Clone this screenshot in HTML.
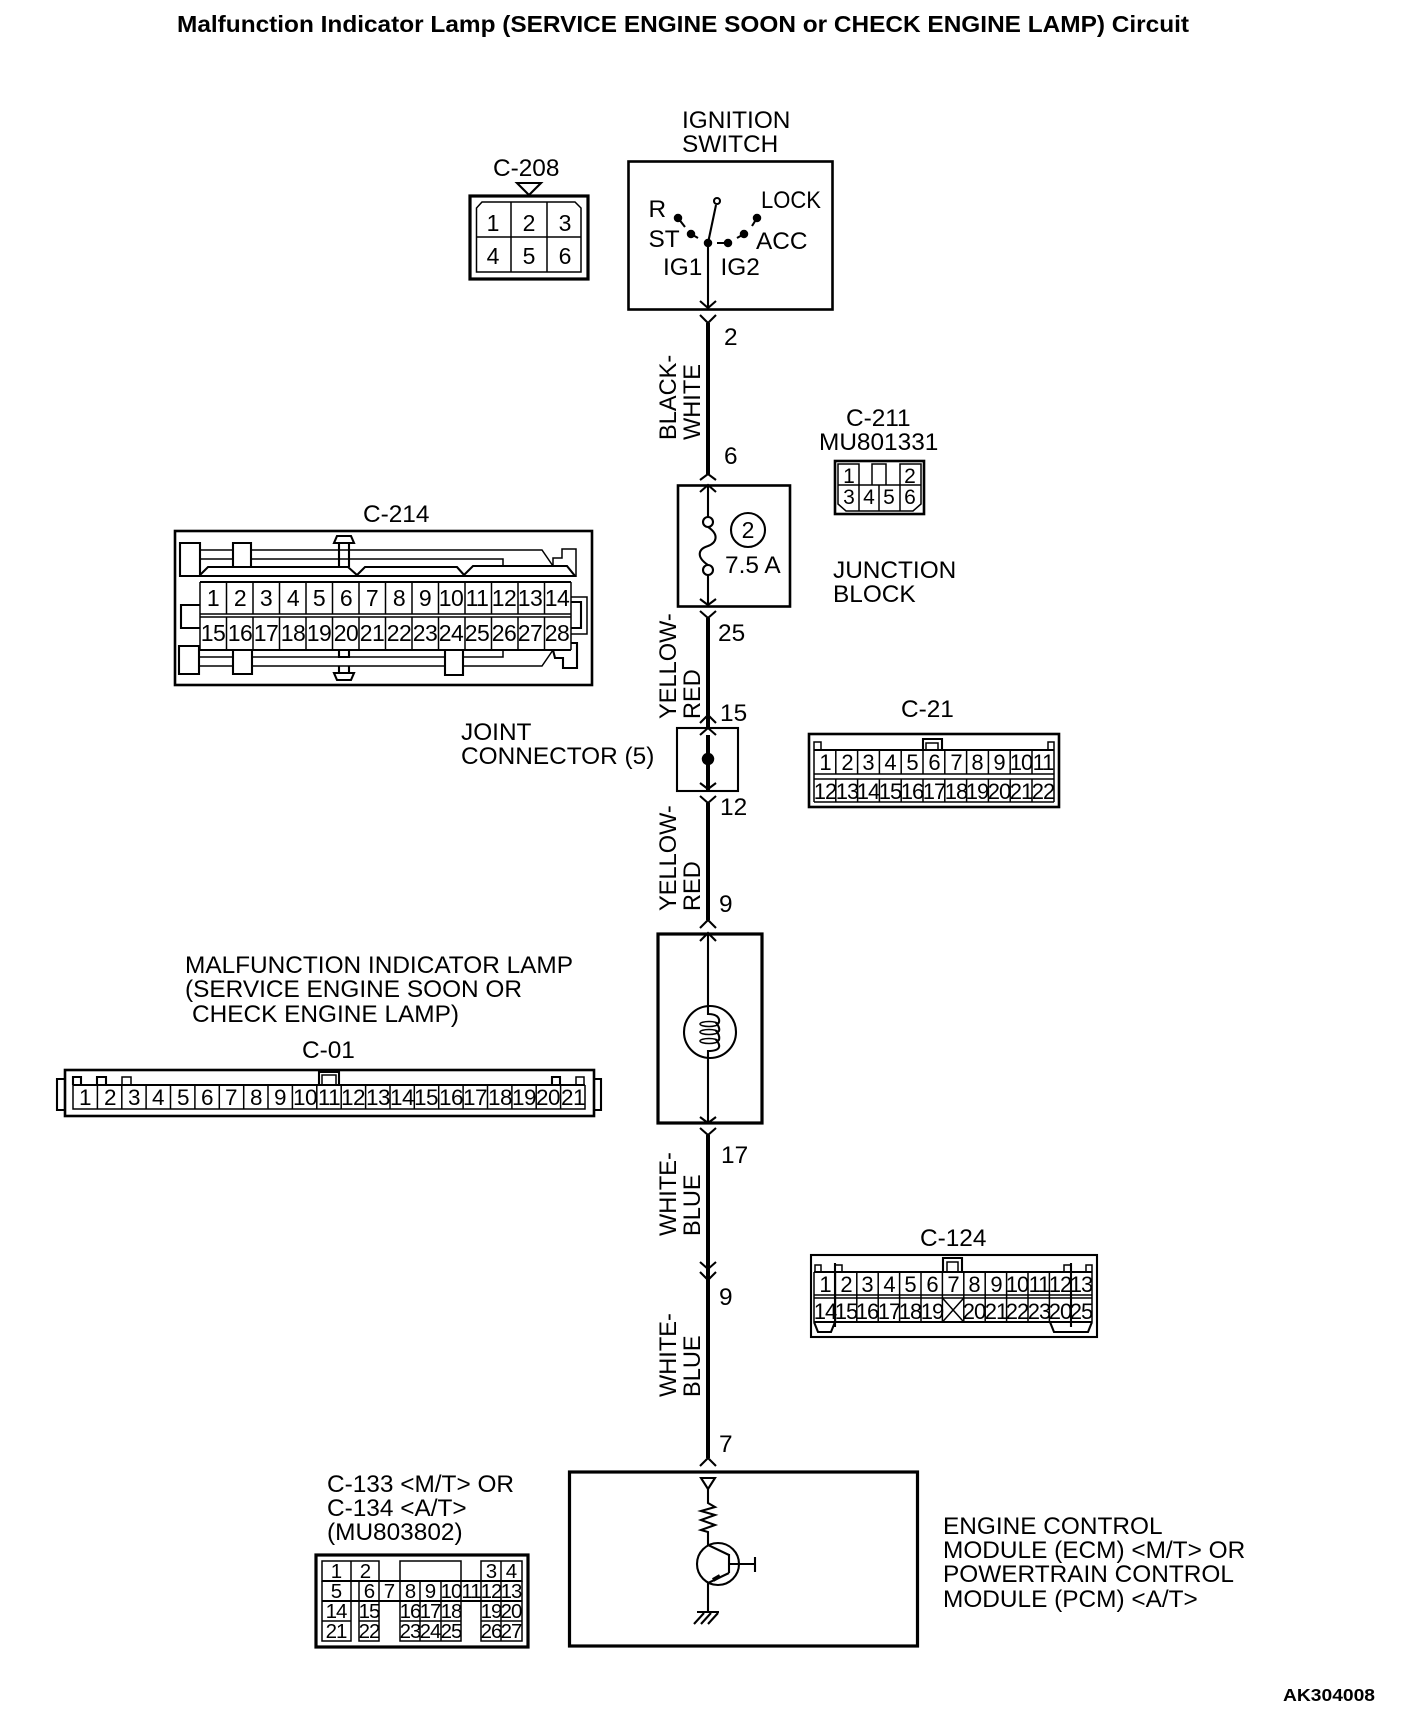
<!DOCTYPE html>
<html><head><meta charset="utf-8"><title>Malfunction Indicator Lamp Circuit</title>
<style>
html,body{margin:0;padding:0;background:#fff;width:1408px;height:1722px;overflow:hidden}
svg{display:block}
text{font-family:"Liberation Sans",sans-serif;fill:#000;stroke:none}
.l{font-size:24.4px}
.r{font-size:23.6px}
.n{font-size:23px;text-anchor:middle}
.s{font-size:22px;text-anchor:middle;letter-spacing:-1px}
.a{font-size:22.500px;text-anchor:middle;letter-spacing:-.5px}
.t{font-size:20.500px;text-anchor:middle;letter-spacing:-1px}
path,rect,circle,ellipse,line,polygon{fill:none;stroke:#000;stroke-width:1.5}
.b2{stroke-width:2.6}
.b3{stroke-width:3.2}
.w{stroke-width:4}
.c{stroke-width:2.1}
</style></head><body>
<svg width="1408" height="1722" viewBox="0 0 1408 1722" xmlns="http://www.w3.org/2000/svg">
<text x="177" y="32" font-size="23" font-weight="bold" textLength="1012" lengthAdjust="spacingAndGlyphs">Malfunction Indicator Lamp (SERVICE ENGINE SOON or CHECK ENGINE LAMP) Circuit</text>
<text x="1283" y="1701" font-size="17.500" font-weight="bold" textLength="92" lengthAdjust="spacingAndGlyphs">AK304008</text>

<!-- Wires -->
<path class="w" d="M708 323V474M708 618V728M708 735V790M708 803V920M708 1135V1458"/>
<path class="c" d="M708 243V309M708 485V517M708 575V606M708 934V1006M708 1058V1123"/>
<path class="c" d="M700 301L708 308L716 301M700 315L708 323L716 315"/>
<path class="c" d="M700 480L708 474L716 480M700 492L708 485L716 492"/>
<path class="c" d="M700 599L708 605L716 599M700 611L708 618L716 611"/>
<path class="c" d="M700 723L708 715L716 723M700 735L708 728L716 735"/>
<path class="c" d="M700 783L708 789L716 783M700 796L708 803L716 796"/>
<path class="c" d="M700 928L708 920L716 928M700 941L708 933L716 941"/>
<path class="c" d="M700 1117L708 1123L716 1117M700 1128L708 1135L716 1128"/>
<path class="c" d="M700 1262L708 1269L716 1262M700 1272L708 1280L716 1272"/>
<path class="c" d="M700 1466L708 1458L716 1466"/>

<!-- Ignition switch -->
<text class="l" x="682" y="128">IGNITION</text>
<text class="l" x="682" y="152">SWITCH</text>
<rect class="b2" x="628.500" y="161.500" width="204" height="148"/>
<circle class="c" cx="717" cy="201" r="3"/>
<path class="c" d="M716 205L708 243"/>
<circle cx="708" cy="243" r="3.500" style="fill:#000"/>
<circle cx="728" cy="243" r="3.500" style="fill:#000"/>
<circle cx="678" cy="218" r="3.500" style="fill:#000"/>
<circle cx="691" cy="234" r="3.500" style="fill:#000"/>
<circle cx="744" cy="234" r="3.500" style="fill:#000"/>
<circle cx="757" cy="218" r="3.500" style="fill:#000"/>
<path class="c" d="M678 218L685 227M691 234L698 238M728 243H717M744 234L737 238M757 218L752 226"/>
<text class="l" x="648.500" y="217">R</text>
<text class="l" x="648.500" y="247">ST</text>
<text class="l" x="663" y="275">IG1</text>
<text class="l" x="720.500" y="275">IG2</text>
<text class="r" x="761" y="208" textLength="60" lengthAdjust="spacingAndGlyphs">LOCK</text>
<text class="l" x="756" y="249">ACC</text>

<!-- Pin labels -->
<text class="l" x="724" y="345">2</text>
<text class="l" x="724" y="464">6</text>
<text class="l" x="718" y="641">25</text>
<text class="l" x="720" y="721">15</text>
<text class="l" x="720" y="815">12</text>
<text class="l" x="719" y="912">9</text>
<text class="l" x="721" y="1163">17</text>
<text class="l" x="719" y="1305">9</text>
<text class="l" x="719" y="1452">7</text>

<!-- Wire colours -->
<g class="r">
<text transform="translate(676 440) rotate(-90)">BLACK-</text>
<text transform="translate(700 440) rotate(-90)">WHITE</text>
<text transform="translate(676 719) rotate(-90)">YELLOW-</text>
<text transform="translate(700 719) rotate(-90)">RED</text>
<text transform="translate(676 911) rotate(-90)">YELLOW-</text>
<text transform="translate(700 911) rotate(-90)">RED</text>
<text transform="translate(676 1236) rotate(-90)">WHITE-</text>
<text transform="translate(700 1236) rotate(-90)">BLUE</text>
<text transform="translate(676 1397) rotate(-90)">WHITE-</text>
<text transform="translate(700 1397) rotate(-90)">BLUE</text>
</g>

<!-- C-208 -->
<text class="l" x="493" y="176">C-208</text>
<polygon class="c" points="517,183 541,183 529,195"/>
<rect class="b3" x="470" y="196" width="118" height="83"/>
<path d="M476.500 272V208L482 202H575L581 208V272ZM511 202V272M547 202V272M476.500 237H581"/>
<text class="n" x="493" y="231">1</text><text class="n" x="529" y="231">2</text><text class="n" x="565" y="231">3</text>
<text class="n" x="493" y="264">4</text><text class="n" x="529" y="264">5</text><text class="n" x="565" y="264">6</text>

<!-- Junction block -->
<rect class="b2" x="678" y="485.500" width="112" height="121"/>
<circle class="c" cx="708" cy="522" r="5"/>
<circle class="c" cx="708" cy="570" r="5"/>
<path class="c" d="M708 527C720 535 716 543 708 546C698 549 696 557 708 565"/>
<circle class="c" cx="748" cy="530" r="17"/>
<text class="n" x="748" y="538">2</text>
<text class="l" x="725" y="573">7.5 A</text>
<text class="l" x="833" y="578">JUNCTION</text>
<text class="l" x="833" y="602">BLOCK</text>

<!-- C-211 -->
<text class="l" x="846" y="426">C-211</text>
<text class="l" x="819" y="450">MU801331</text>
<rect class="b2" x="835" y="461" width="89" height="53"/>
<path d="M838 464H859V485H838ZM900 464H921V485H900ZM872 464H886V485H872ZM838 485H921V504L913 511H846L838 504ZM859 485V511M879 485V511M900 485V511"/>
<g class="n" style="font-size:21px"><text x="849" y="483">1</text><text x="910" y="483">2</text><text x="849" y="504">3</text><text x="869" y="504">4</text><text x="889" y="504">5</text><text x="910" y="504">6</text></g>

<!-- C-214 -->
<text class="l" x="363" y="522">C-214</text>
<rect class="b2" x="175" y="531" width="417" height="154"/>
<path class="c" d="M180 543H200V576H180ZM233 543H251V567H233Z"/>
<path d="M200 550H233M251 550H542L553 566M200 559H233M251 559H503V565"/>
<path class="c" d="M200 575L208 567H348L357 575L365 567H457L464 575L473 566H567L575 576H180"/>
<path d="M553 566V558H562V549H576V576"/>
<path class="c" d="M339 543V567M349 543V567"/>
<path class="c" d="M337 536H351L354 543H334Z"/>
<path class="c" d="M200 582H571M200 650H571"/>
<path d="M200 582V650M571 582V650M200 614H571M200 617H571"/>
<path d="M226.500 582V614M253 582V614M279.500 582V614M306 582V614M332.500 582V614M359 582V614M385.500 582V614M412 582V614M438.500 582V614M465 582V614M491.500 582V614M518 582V614M544.500 582V614"/>
<path d="M226.500 617V650M253 617V650M279.500 617V650M306 617V650M332.500 617V650M359 617V650M385.500 617V650M412 617V650M438.500 617V650M465 617V650M491.500 617V650M518 617V650M544.500 617V650"/>
<path class="c" d="M200 605H181V628H200"/>
<path d="M571 597H587V634H571"/>
<path class="c" d="M571 602H581V628H571"/>
<path class="c" d="M199 646H179V674H199ZM233 650V674H252V650M445 650V675H463V650"/>
<path d="M199 657H233M252 657H445M463 657H503V650M199 666H233M252 666H445M463 666H542L553 650"/>
<path class="c" d="M553 650L555 658H563V668H577V643H571"/>
<path class="c" d="M339 650V657H349V650M339 666V673M349 666V673M334 673H354L351 680H337Z"/>
<g class="n" style="letter-spacing:-.6px">
<text x="213" y="606">1</text><text x="240" y="606">2</text><text x="266" y="606">3</text><text x="293" y="606">4</text><text x="319" y="606">5</text><text x="346" y="606">6</text><text x="372" y="606">7</text><text x="399" y="606">8</text><text x="425" y="606">9</text><text x="451" y="606">10</text><text x="477" y="606">11</text><text x="504" y="606">12</text><text x="530" y="606">13</text><text x="557" y="606">14</text>
<text x="213" y="641">15</text><text x="240" y="641">16</text><text x="266" y="641">17</text><text x="293" y="641">18</text><text x="319" y="641">19</text><text x="346" y="641">20</text><text x="372" y="641">21</text><text x="399" y="641">22</text><text x="425" y="641">23</text><text x="451" y="641">24</text><text x="477" y="641">25</text><text x="504" y="641">26</text><text x="530" y="641">27</text><text x="557" y="641">28</text>
</g>

<!-- Joint connector -->
<text class="l" x="461" y="740">JOINT</text>
<text class="l" x="461" y="764">CONNECTOR (5)</text>
<rect class="c" x="677" y="728" width="61" height="63"/>
<circle cx="708" cy="759" r="5.500" style="fill:#000"/>

<!-- C-21 -->
<text class="l" x="901" y="717">C-21</text>
<rect class="b2" x="809" y="734" width="250" height="73"/>
<path class="c" d="M814 750H1054"/>
<path d="M814 774H1054M814 779H1054M814 802H1054"/>
<path d="M814 750V802M1054 750V802M835.800 750V774M857.600 750V774M879.400 750V774M901.200 750V774M923 750V774M944.800 750V774M966.600 750V774M988.400 750V774M1010.200 750V774M1032 750V774M835.800 779V802M857.600 779V802M879.400 779V802M901.200 779V802M923 779V802M944.800 779V802M966.600 779V802M988.400 779V802M1010.200 779V802M1032 779V802"/>
<path d="M814 750V742H821V750M1048 750V742H1054V750"/>
<path class="c" d="M923 750V739H942V750"/>
<path d="M926 750V743H938V750"/>
<g class="s">
<text x="825" y="770">1</text><text x="847" y="770">2</text><text x="868" y="770">3</text><text x="890" y="770">4</text><text x="912" y="770">5</text><text x="934" y="770">6</text><text x="956" y="770">7</text><text x="977" y="770">8</text><text x="999" y="770">9</text><text x="1021" y="770">10</text><text x="1043" y="770">11</text>
<text x="825" y="799">12</text><text x="847" y="799">13</text><text x="868" y="799">14</text><text x="890" y="799">15</text><text x="912" y="799">16</text><text x="934" y="799">17</text><text x="956" y="799">18</text><text x="977" y="799">19</text><text x="999" y="799">20</text><text x="1021" y="799">21</text><text x="1043" y="799">22</text>
</g>

<!-- Lamp -->
<text class="l" x="185" y="973">MALFUNCTION INDICATOR LAMP</text>
<text class="l" x="185" y="997">(SERVICE ENGINE SOON OR</text>
<text class="l" x="192" y="1022">CHECK ENGINE LAMP)</text>
<rect class="b3" x="658" y="934" width="104" height="189"/>
<circle class="c" cx="710" cy="1032" r="26"/>
<path class="c" d="M708 1006V1014C722 1014 720 1024 717 1024C720 1028 720 1032 717 1032C720 1036 720 1041 717 1041C720 1045 722 1051 708 1051V1058"/>
<ellipse cx="709" cy="1024" rx="9" ry="2.500"/>
<ellipse cx="709" cy="1032" rx="9" ry="2.500"/>
<ellipse cx="709" cy="1041" rx="9" ry="2.500"/>

<!-- C-01 -->
<text class="l" x="302" y="1058">C-01</text>
<rect class="b2" x="65" y="1070" width="529" height="46"/>
<path class="c" d="M65 1079H57V1110H65M594 1079H601V1110H594"/>
<path class="c" d="M73 1085H585"/>
<path d="M73 1085V1109H585V1085M97.400 1085V1109M121.800 1085V1109M146.100 1085V1109M170.500 1085V1109M194.900 1085V1109M219.300 1085V1109M243.700 1085V1109M268 1085V1109M292.400 1085V1109M316.800 1085V1109M341.200 1085V1109M365.600 1085V1109M390 1085V1109M414.300 1085V1109M438.700 1085V1109M463.100 1085V1109M487.500 1085V1109M511.900 1085V1109M536.200 1085V1109M560.600 1085V1109"/>
<path class="c" d="M73 1085V1077H81V1085M97 1085V1077H106V1085M552 1085V1077H560V1085"/>
<path d="M122 1085V1077H131V1085M576 1085V1077H584V1085"/>
<path class="c" d="M319 1085V1072H339V1085"/>
<path d="M322 1085V1075H336V1085"/>
<g class="a">
<text x="85" y="1105">1</text><text x="110" y="1105">2</text><text x="134" y="1105">3</text><text x="158" y="1105">4</text><text x="183" y="1105">5</text><text x="207" y="1105">6</text><text x="231" y="1105">7</text><text x="256" y="1105">8</text><text x="280" y="1105">9</text><text x="305" y="1105">10</text><text x="329" y="1105">11</text><text x="353" y="1105">12</text><text x="378" y="1105">13</text><text x="402" y="1105">14</text><text x="426" y="1105">15</text><text x="451" y="1105">16</text><text x="475" y="1105">17</text><text x="500" y="1105">18</text><text x="524" y="1105">19</text><text x="548" y="1105">20</text><text x="573" y="1105">21</text>
</g>

<!-- C-124 -->
<text class="l" x="920" y="1246">C-124</text>
<rect class="c" x="811" y="1255" width="286" height="82"/>
<path class="c" d="M814 1272H1092M814 1322H1092"/>
<path d="M814 1295H1092M814 1298H1092M814 1272V1322M1092 1272V1322"/>
<path d="M835.400 1272V1322M856.800 1272V1322M878.200 1272V1322M899.600 1272V1322M921 1272V1322M942.400 1272V1322M963.800 1272V1322M985.200 1272V1322M1006.600 1272V1322M1028 1272V1322M1049.400 1272V1322"/>
<path class="c" d="M835 1263V1327M1071 1263V1327"/>
<path d="M815 1272V1265H821V1272M835 1272V1265H842V1272M1064 1272V1265H1071V1272M1086 1272V1265H1092V1272"/>
<path class="c" d="M943 1272V1258H962V1272"/>
<path d="M947 1272V1262H958V1272"/>
<path d="M942.400 1298L963.800 1322M963.800 1298L942.400 1322"/>
<path class="c" d="M814 1322L818 1332H831L835 1322M1050 1322L1054 1332H1088L1092 1322"/>
<g class="s">
<text x="825" y="1292">1</text><text x="846" y="1292">2</text><text x="867" y="1292">3</text><text x="889" y="1292">4</text><text x="910" y="1292">5</text><text x="932" y="1292">6</text><text x="953" y="1292">7</text><text x="974" y="1292">8</text><text x="996" y="1292">9</text><text x="1017" y="1292">10</text><text x="1039" y="1292">11</text><text x="1060" y="1292">12</text><text x="1081" y="1292">13</text>
<text x="825" y="1319">14</text><text x="846" y="1319">15</text><text x="867" y="1319">16</text><text x="889" y="1319">17</text><text x="910" y="1319">18</text><text x="932" y="1319">19</text><text x="974" y="1319">20</text><text x="996" y="1319">21</text><text x="1017" y="1319">22</text><text x="1039" y="1319">23</text><text x="1060" y="1319">20</text><text x="1081" y="1319">25</text>
</g>

<!-- ECM -->
<rect class="b3" x="569.500" y="1472" width="348" height="174"/>
<polygon class="c" points="701,1478 715,1478 708,1489"/>
<path class="c" d="M708 1489V1503L715 1507L701 1511L715 1515L701 1520L715 1525L701 1530L708 1532V1545L729 1555"/>
<circle class="c" cx="718" cy="1564" r="21"/>
<path class="c" d="M729 1554V1573M729 1564H755M755 1557V1572M729 1573L708 1583V1612"/>
<path class="w" d="M713 1580L720 1576"/>
<path class="c" d="M697 1612H719M704 1613L694 1624M711 1613L701 1624M718 1613L708 1624"/>
<text class="l" x="943" y="1534">ENGINE CONTROL</text>
<text class="l" x="943" y="1558">MODULE (ECM) &lt;M/T&gt; OR</text>
<text class="l" x="943" y="1582">POWERTRAIN CONTROL</text>
<text class="l" x="943" y="1607">MODULE (PCM) &lt;A/T&gt;</text>

<!-- C-133 -->
<text class="l" x="327" y="1492">C-133 &lt;M/T&gt; OR</text>
<text class="l" x="327" y="1516">C-134 &lt;A/T&gt;</text>
<text class="l" x="327" y="1540">(MU803802)</text>
<rect class="b3" x="316" y="1555" width="212" height="92"/>
<path d="M322 1561H379V1581H322ZM351 1561V1581M400 1561H461V1581H400ZM481 1561H522V1581H481ZM501 1561V1581"/>
<path class="c" d="M322 1581H522M322 1601H522"/>
<path d="M322 1581V1641H351V1581M359 1581V1641H379V1581M400 1581V1641H461V1581M481 1581V1641H522V1581M420 1581V1641M441 1581V1641M501 1581V1641M322 1621H351M359 1621H379M400 1621H461M481 1621H522M379 1581V1601M461 1581V1601M420 1581V1601"/>
<g class="t">
<text x="336" y="1578">1</text><text x="365" y="1578">2</text><text x="491" y="1578">3</text><text x="511" y="1578">4</text>
<text x="336" y="1598">5</text><text x="369" y="1598">6</text><text x="389" y="1598">7</text><text x="410" y="1598">8</text><text x="430" y="1598">9</text><text x="451" y="1598">10</text><text x="471" y="1598">11</text><text x="491" y="1598">12</text><text x="511" y="1598">13</text>
<text x="336" y="1618">14</text><text x="369" y="1618">15</text><text x="410" y="1618">16</text><text x="430" y="1618">17</text><text x="451" y="1618">18</text><text x="491" y="1618">19</text><text x="511" y="1618">20</text>
<text x="336" y="1638">21</text><text x="369" y="1638">22</text><text x="410" y="1638">23</text><text x="430" y="1638">24</text><text x="451" y="1638">25</text><text x="491" y="1638">26</text><text x="511" y="1638">27</text>
</g>
</svg>
</body></html>
